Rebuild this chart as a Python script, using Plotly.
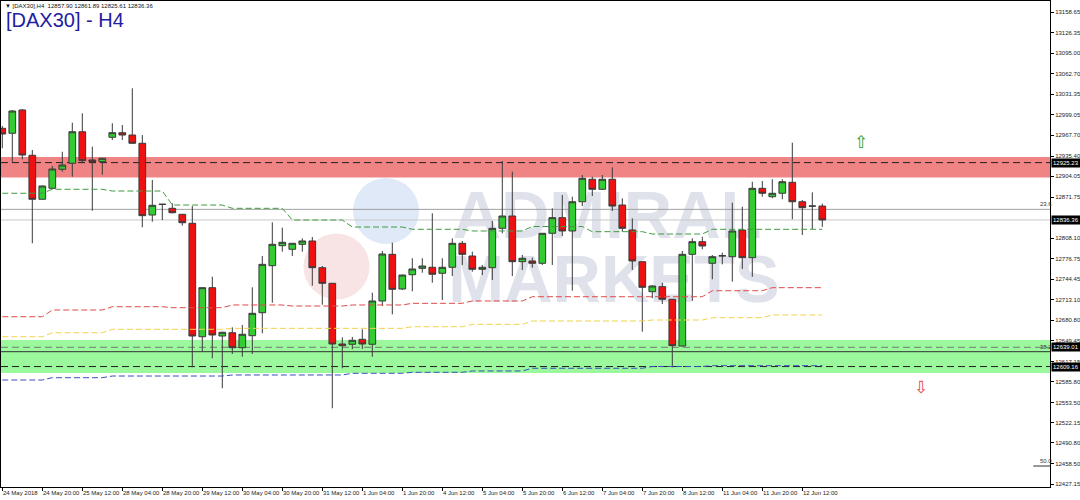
import plotly.graph_objects as go

# ---------------- data ----------------
bars = list(range(83))
opens = [12978.4, 12970.7, 13006.8, 12936.6, 12868.4, 12885.4, 12914.9, 12924.2, 12973.1, 12929.3,
         12926.7, 12964.5, 12971.6, 12968.0, 12955.2, 12844.0, 12860.6, 12854.4, 12845.1, 12831.2,
         12655.4, 12731.4, 12656.5, 12661.6, 12638.4, 12657.0, 12692.6, 12765.5, 12796.5, 12790.9,
         12798.6, 12803.8, 12762.4, 12738.2, 12644.1, 12643.7, 12651.4, 12643.7, 12710.8, 12783.1,
         12729.4, 12751.5, 12761.4, 12763.0, 12753.7, 12763.0, 12800.2, 12780.5, 12759.9, 12762.4,
         12823.4, 12842.5, 12771.7, 12772.8, 12769.2, 12815.7, 12839.9, 12819.3, 12864.6, 12899.4,
         12883.9, 12899.4, 12859.5, 12820.8, 12771.7, 12725.2, 12733.0, 12713.4, 12641.0, 12783.1,
         12802.7, 12769.2, 12780.5, 12779.4, 12820.8, 12777.9, 12885.4, 12872.4, 12877.7, 12894.7,
         12864.6, 12857.9, 12857.90]
highs = [12982.0, 13006.8, 13008.3, 12944.8, 12889.8, 12920.0, 12942.1, 12987.1, 13001.6, 12949.9,
         12932.4, 12986.2, 12983.5, 13040.4, 12968.0, 12898.3, 12861.1, 12862.2, 12845.6, 12857.9,
         12731.4, 12748.4, 12663.2, 12670.0, 12673.6, 12732.0, 12780.5, 12832.7, 12824.4, 12800.7,
         12807.9, 12810.0, 12765.0, 12738.7, 12654.5, 12655.0, 12666.9, 12723.6, 12788.2, 12801.1,
         12751.8, 12777.0, 12777.0, 12846.7, 12777.0, 12807.9, 12803.8, 12787.2, 12766.6, 12834.8,
         12927.7, 12911.2, 12782.0, 12777.9, 12816.2, 12854.4, 12875.0, 12872.4, 12906.0, 12903.4,
         12906.0, 12918.0, 12869.9, 12838.9, 12771.7, 12735.6, 12739.1, 12713.9, 12788.2, 12807.9,
         12810.4, 12782.0, 12785.6, 12863.1, 12856.9, 12895.6, 12896.7, 12899.4, 12899.4, 12956.1,
         12867.3, 12879.2, 12861.89]
lows = [12947.4, 12926.2, 12930.4, 12800.2, 12868.1, 12884.3, 12911.2, 12903.4, 12924.2, 12850.7,
        12906.5, 12960.3, 12960.3, 12954.9, 12825.0, 12833.7, 12836.3, 12846.6, 12827.5, 12608.0,
        12632.2, 12622.0, 12575.5, 12628.6, 12624.4, 12628.6, 12660.7, 12708.1, 12787.2, 12780.5,
        12787.2, 12734.5, 12705.0, 12544.5, 12606.5, 12635.9, 12636.4, 12624.4, 12703.0, 12690.1,
        12727.8, 12725.8, 12754.6, 12739.1, 12712.3, 12749.5, 12766.6, 12756.2, 12751.0, 12743.3,
        12815.7, 12749.5, 12758.8, 12762.4, 12766.6, 12766.6, 12811.5, 12726.7, 12857.9, 12873.5,
        12882.8, 12850.3, 12818.2, 12758.8, 12663.2, 12714.9, 12706.1, 12608.0, 12640.0, 12710.8,
        12790.9, 12744.4, 12767.6, 12740.7, 12760.4, 12748.4, 12872.4, 12869.9, 12868.4, 12837.4,
        12813.1, 12822.3, 12825.61]
closes = [12969.6, 13005.2, 12937.0, 12868.4, 12889.0, 12915.3, 12921.5, 12973.1, 12928.2, 12926.7,
          12931.9, 12971.6, 12968.0, 12955.2, 12843.0, 12859.1, 12860.6, 12847.6, 12832.1, 12656.5,
          12731.4, 12658.1, 12662.3, 12638.4, 12659.2, 12691.7, 12767.6, 12798.6, 12801.7, 12800.2,
          12803.8, 12762.4, 12738.2, 12644.1, 12641.5, 12649.9, 12644.1, 12710.8, 12783.6, 12728.9,
          12751.0, 12760.4, 12765.0, 12752.2, 12763.0, 12800.2, 12783.1, 12759.9, 12763.0, 12823.4,
          12842.5, 12771.7, 12777.0, 12769.2, 12815.7, 12839.9, 12819.3, 12864.6, 12900.9, 12883.9,
          12899.4, 12857.9, 12823.4, 12772.8, 12732.0, 12734.0, 12713.4, 12641.5, 12783.1, 12802.7,
          12796.0, 12779.4, 12781.0, 12819.3, 12777.9, 12885.4, 12877.7, 12877.7, 12895.6, 12864.6,
          12855.4, 12857.9, 12836.36]

# daily moving averages (one value per trading day), first/last H4 bar of each day
day_first = [0, 5, 11, 17, 23, 29, 35, 41, 47, 53, 59, 65, 71, 77]
day_last = [4, 10, 16, 22, 28, 34, 40, 46, 52, 58, 64, 70, 76, 82]
ma_green = [12877.7, 12883.9, 12881.2, 12859.5, 12854.4, 12836.3, 12825.4, 12821.9, 12819.3, 12826.2,
            12818.2, 12814.6, 12821.9, 12821.9]
ma_red = [12686.4, 12696.8, 12701.9, 12700.4, 12704.6, 12703.0, 12704.6, 12707.2, 12710.8, 12717.4,
          12717.4, 12717.4, 12726.7, 12731.4]
ma_yellow = [12655.4, 12661.6, 12666.9, 12666.9, 12668.4, 12668.4, 12668.4, 12670.9, 12674.6, 12679.8,
             12679.8, 12681.3, 12684.9, 12689.1]
ma_blue = [12588.3, 12591.9, 12594.5, 12594.5, 12596.1, 12596.1, 12598.7, 12600.3, 12602.3, 12606.5,
           12606.5, 12609.3, 12610.5, 12610.5]

x_label_bars = [0, 4, 8, 12, 16, 20, 24, 28, 32, 36, 40, 44, 48, 52, 56, 60, 64, 68, 72, 76, 80]
x_labels = ["24 May 2018", "24 May 20:00", "25 May 12:00", "28 May 04:00", "28 May 20:00",
            "29 May 12:00", "30 May 04:00", "30 May 20:00", "31 May 12:00", "1 Jun 04:00",
            "1 Jun 20:00", "4 Jun 12:00", "5 Jun 04:00", "5 Jun 20:00", "6 Jun 12:00",
            "7 Jun 04:00", "7 Jun 20:00", "8 Jun 12:00", "11 Jun 04:00", "11 Jun 20:00",
            "12 Jun 12:00"]
y_ticks = [13158.65, 13126.35, 13095.00, 13062.70, 13031.35, 12999.05, 12967.70, 12935.40,
           12904.05, 12871.75, 12808.10, 12776.75, 12744.45, 12713.10, 12680.80,
           12649.45, 12617.15, 12585.80, 12553.50, 12522.15, 12490.80, 12458.50, 12427.15]

resistance_zone = (12902.0, 12934.0)
support_zone = (12599.0, 12650.5)
level_res = 12925.23
level_sup1 = 12639.01
level_sup2 = 12609.16
bid = 12836.36
fib_levels = {"23.6": 12852.8, "38.2": 12632.2, "50.0": 12455.0}
arrow_up = (85.9, 12957.0)
arrow_down = (91.9, 12577.5)

# ---------------- layout helpers ----------------
W, H = 1080, 500
ML, MR, MT, MB = 1, 30, 1, 13
X_RANGE = [-0.13, 104.77]
Y_RANGE = [12422.5, 13175.7]


def px(xp):
    return (xp - ML) / (W - ML - MR)


def py(yp):
    return (H - MB - yp) / (H - MT - MB)


fig = go.Figure()


def step_line(vals, color):
    xs, ys = [], []
    for a, b, v in zip(day_first, day_last, vals):
        xs += [a, b]
        ys += [v, v]
    fig.add_trace(go.Scatter(x=xs, y=ys, mode="lines", hoverinfo="skip",
                             line=dict(color=color, width=1, dash="6px,3px")))


step_line(ma_green, "#3f9b3f")
step_line(ma_red, "#e04848")
step_line(ma_yellow, "#f2d24a")
step_line(ma_blue, "#3a4fc0")

fig.add_trace(go.Candlestick(
    x=bars, open=opens, high=highs, low=lows, close=closes,
    increasing=dict(fillcolor="#33cc33", line=dict(color="#3a3a3a", width=1)),
    decreasing=dict(fillcolor="#ee1111", line=dict(color="#3a3a3a", width=1)),
    whiskerwidth=0,
))

shapes = []
# zones
shapes.append(dict(type="rect", xref="paper", x0=0, x1=1, yref="y", y0=resistance_zone[0],
                   y1=resistance_zone[1], fillcolor="#f08383", line=dict(width=0), layer="below"))
shapes.append(dict(type="rect", xref="paper", x0=0, x1=1, yref="y", y0=support_zone[0],
                   y1=support_zone[1], fillcolor="#9cf89c", line=dict(width=0), layer="below"))
# watermark circles
for (cx, cy, col) in [(386, 211, "#dfe9f8"), (336.5, 266.5, "#f8e3e5")]:
    shapes.append(dict(type="circle", xref="paper", yref="paper",
                       x0=px(cx - 33), x1=px(cx + 33), y0=py(cy + 33), y1=py(cy - 33),
                       fillcolor=col, line=dict(width=0), layer="below"))
# watermark text
for (txt, cx, cy, wpx) in [("ADMIRAL", 607, 208, 302), ("MARKETS", 614, 272, 316)]:
    shapes.append(dict(type="rect", xref="paper", yref="paper",
                       x0=px(cx - wpx / 2), x1=px(cx + wpx / 2), y0=py(cy + 30), y1=py(cy - 30),
                       fillcolor="rgba(0,0,0,0)", line=dict(width=0), layer="below",
                       label=dict(text=txt, textposition="middle center",
                                  font=dict(family="Liberation Sans, Arial",
                                            size=67, color="#dfe2ea", weight="bold"))))
# horizontal lines
shapes.append(dict(type="line", xref="paper", x0=0, x1=1, yref="y", y0=fib_levels["23.6"],
                   y1=fib_levels["23.6"], line=dict(color="#a0a0a0", width=1), layer="below"))
shapes.append(dict(type="line", xref="paper", x0=0, x1=1, yref="y", y0=bid, y1=bid,
                   line=dict(color="#c8c8c8", width=1), layer="below"))
shapes.append(dict(type="line", xref="paper", x0=0, x1=1, yref="y", y0=fib_levels["38.2"],
                   y1=fib_levels["38.2"], line=dict(color="#303030", width=1), layer="below"))
shapes.append(dict(type="line", xref="x", x0=103.1, x1=X_RANGE[1], yref="y", y0=fib_levels["50.0"],
                   y1=fib_levels["50.0"], line=dict(color="#303030", width=1), layer="below"))
shapes.append(dict(type="line", xref="paper", x0=0, x1=1, yref="y", y0=level_sup1, y1=level_sup1,
                   line=dict(color="#7a7a7a", width=1, dash="7px,4px"), layer="below"))
for lv in (level_res, level_sup2):
    shapes.append(dict(type="line", xref="paper", x0=0, x1=1, yref="y", y0=lv, y1=lv,
                       line=dict(color="#202020", width=1, dash="7px,4px"), layer="below"))

annotations = []
# header
annotations.append(dict(xref="paper", yref="paper", x=px(3), y=py(6), xanchor="left", yanchor="middle",
                        text="▼ [DAX30],H4  12857.90 12861.89 12825.61 12836.36", showarrow=False,
                        font=dict(family="Liberation Sans", size=6, color="#111111")))
annotations.append(dict(xref="paper", yref="paper", x=px(4), y=py(20), xanchor="left", yanchor="middle",
                        text="[DAX30] - H4", showarrow=False,
                        font=dict(family="Liberation Sans", size=20, color="#2121a3")))
# x labels
for b, t in zip(x_label_bars, x_labels):
    annotations.append(dict(xref="x", yref="paper", x=b, y=py(493), xanchor="left", yanchor="middle",
                            xshift=-1, text=t, showarrow=False,
                            font=dict(family="Liberation Sans", size=6, color="#222222")))
# price boxes on the right axis
for lv in (level_res, bid, level_sup1, level_sup2):
    annotations.append(dict(xref="paper", yref="y", x=1, y=lv, xanchor="left", yanchor="middle",
                            xshift=1, text=f"{lv:.2f}", showarrow=False, bgcolor="#000000",
                            borderpad=1, font=dict(family="Liberation Sans", size=6, color="#ffffff")))
# fibo labels
for name, lv in fib_levels.items():
    annotations.append(dict(xref="x", yref="y", x=103.6, y=lv, xanchor="left", yanchor="bottom",
                            text=name, showarrow=False, yshift=0,
                            font=dict(family="Liberation Sans", size=6, color="#333333")))
# arrows
annotations.append(dict(xref="x", yref="y", x=arrow_up[0], y=arrow_up[1], text="⇧", showarrow=False,
                        font=dict(family="DejaVu Sans", size=17, color="#2f9e2f")))
annotations.append(dict(xref="x", yref="y", x=arrow_down[0], y=arrow_down[1], text="⇩", showarrow=False,
                        font=dict(family="DejaVu Sans", size=17, color="#e24a4a")))

fig.update_layout(
    width=W, height=H,
    margin=dict(l=ML, r=MR, t=MT, b=MB, autoexpand=False),
    paper_bgcolor="white", plot_bgcolor="white",
    showlegend=False,
    boxgap=0.33, boxgroupgap=0,
    shapes=shapes, annotations=annotations,
    xaxis=dict(range=X_RANGE, showgrid=False, zeroline=False, rangeslider=dict(visible=False),
               tickmode="array", tickvals=x_label_bars, showticklabels=False,
               ticks="outside", ticklen=3, tickcolor="#000000",
               showline=True, mirror=True, linecolor="#000000", linewidth=1, automargin=False),
    yaxis=dict(range=Y_RANGE, side="right", showgrid=False, zeroline=False,
               tickmode="array", tickvals=y_ticks, ticktext=[f"{v:.2f}" for v in y_ticks],
               ticks="outside", ticklen=3, tickcolor="#000000",
               tickfont=dict(family="Liberation Sans", size=6, color="#222222"),
               showline=True, mirror=True, linecolor="#000000", linewidth=1, automargin=False),
)

fig.write_html("out.html", config={"displayModeBar": False},
               post_script="document.body.style.margin='0';document.body.style.overflow='hidden';")
